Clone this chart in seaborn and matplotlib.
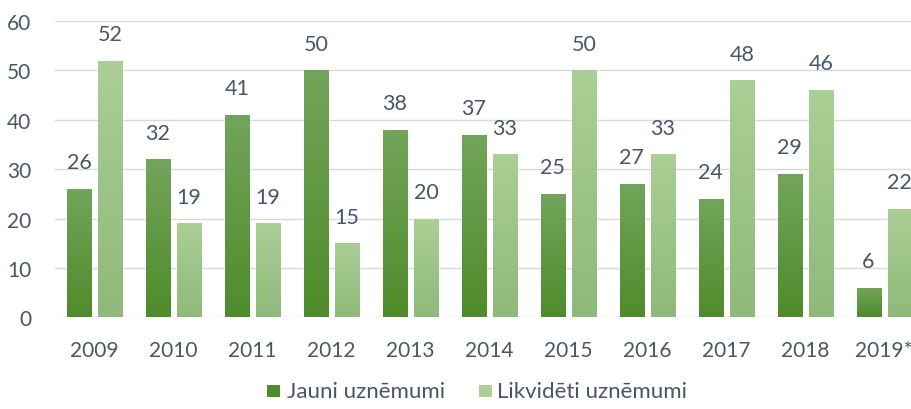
import numpy as np
import pandas as pd
import matplotlib
matplotlib.use("Agg")
import matplotlib.pyplot as plt
import seaborn as sns
from matplotlib.colors import LinearSegmentedColormap
from matplotlib.patches import Rectangle

years = ["2009", "2010", "2011", "2012", "2013", "2014", "2015", "2016", "2017", "2018", "2019*"]
jauni = [26, 32, 41, 50, 38, 37, 25, 27, 24, 29, 6]
likvideti = [52, 19, 19, 15, 20, 33, 50, 33, 48, 46, 22]
series_names = ["Jauni uznēmumi", "Likvidēti uznēmumi"]
yticks = [0, 10, 20, 30, 40, 50, 60]

dark_top, dark_bot = "#72a55a", "#4f8b2b"
light_top, light_bot = "#abcf96", "#8fb97a"
text_color = "#4a5568"

df = pd.DataFrame({
    "year": years * 2,
    "value": jauni + likvideti,
    "series": [series_names[0]] * len(years) + [series_names[1]] * len(years),
})

sns.set_theme(style="white")
plt.rcParams["font.family"] = ["Lato", "DejaVu Sans"]

W, H = 911, 410
fig = plt.figure(figsize=(W / 100, H / 100), dpi=100)
ax = fig.add_axes([55 / W, 1 - 318.3 / H, 1 - 55 / W, (318.3 - 22) / H])

sns.barplot(data=df, x="year", y="value", hue="series", order=years,
            hue_order=series_names, palette=[dark_bot, light_bot],
            width=0.79, gap=0.23, ax=ax, legend=False, saturation=1)

ax.set_ylim(0, 60)
ax.set_xlim(-0.5, 10.34)
ax.set_yticks(yticks)
ax.yaxis.grid(True, color="#d9d9d9", linewidth=1)
ax.set_axisbelow(True)
for s in ax.spines.values():
    s.set_visible(False)
ax.set_xlabel("")
ax.set_ylabel("")
ax.tick_params(axis="x", length=0, pad=16, labelsize=15, labelcolor=text_color)
ax.tick_params(axis="y", length=0, pad=17, labelsize=15, labelcolor=text_color)

# gradients on bars
cmaps = [LinearSegmentedColormap.from_list("d", [dark_bot, dark_top]),
         LinearSegmentedColormap.from_list("l", [light_bot, light_top])]
grad = np.linspace(0, 1, 256).reshape(-1, 1)
for ci, cont in enumerate(ax.containers):
    for p in cont.patches:
        x0, y0 = p.get_x(), p.get_y()
        w, h = p.get_width(), p.get_height()
        im = ax.imshow(grad, cmap=cmaps[ci], origin="lower", aspect="auto",
                       extent=[x0, x0 + w, y0, y0 + h], zorder=p.get_zorder() + 0.1)
        im.set_clip_path(p)
    ax.bar_label(cont, padding=12, fontsize=15.5, color=text_color)

ax.set_xlim(-0.5, 10.34)
ax.set_ylim(0, 60)

# legend (manual, positioned in figure pixels)
legend_items = [(267, 287, dark_bot, series_names[0]),
                (479, 497, light_top, series_names[1])]
for sq_x, tx, col, lab in legend_items:
    fig.add_artist(Rectangle((sq_x / W, 1 - 398 / H), 13 / W, 12 / H,
                             transform=fig.transFigure, facecolor=col, edgecolor="none"))
    fig.text(tx / W, 1 - 392 / H, lab, fontsize=16, color=text_color,
             ha="left", va="center")

fig.savefig("out.png", dpi=100)
